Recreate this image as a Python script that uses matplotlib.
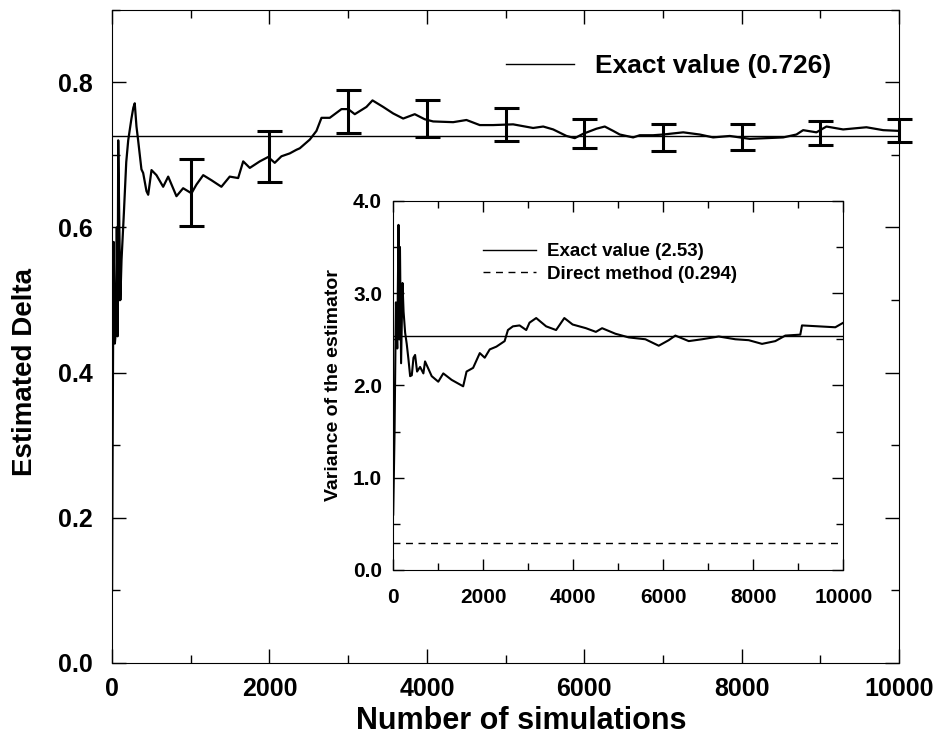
import matplotlib
matplotlib.use("Agg")
import matplotlib.pyplot as plt
from matplotlib.ticker import MultipleLocator, FormatStrFormatter

plt.rcParams['font.family'] = ['Liberation Sans', 'DejaVu Sans']
plt.rcParams['font.weight'] = 'bold'
plt.rcParams['axes.labelweight'] = 'bold'

# running estimate of Delta (main plot)
sim_n = [0, 5, 12, 20, 35, 50, 60, 70, 78, 90, 105, 120, 150, 180, 205, 246, 270, 288,
         310, 331, 373, 395, 437, 459, 501, 564, 649, 713, 818, 903, 1009, 1072, 1158,
         1263, 1389, 1495, 1602, 1666, 1750, 1877, 1983, 2067, 2152, 2258, 2343, 2385,
         2512, 2597, 2661, 2766, 2915, 3000, 3084, 3232, 3309, 3445, 3572, 3699, 3846,
         3973, 4080, 4334, 4503, 4672, 4842, 5096, 5350, 5478, 5605, 5774, 5879, 5986,
         6155, 6260, 6367, 6451, 6621, 6705, 6875, 7003, 7257, 7467, 7637, 7849, 8103,
         8315, 8527, 8696, 8781, 8950, 9077, 9289, 9585, 9798, 10000]
delta_est = [0.10, 0.25, 0.42, 0.58, 0.44, 0.46, 0.60, 0.45, 0.72, 0.62, 0.50, 0.555,
             0.62, 0.69, 0.72, 0.75, 0.765, 0.771, 0.739, 0.72, 0.68, 0.675, 0.65, 0.645,
             0.679, 0.672, 0.656, 0.670, 0.643, 0.654, 0.647, 0.659, 0.672, 0.665, 0.656,
             0.670, 0.668, 0.691, 0.682, 0.691, 0.697, 0.689, 0.698, 0.702, 0.707, 0.709,
             0.721, 0.733, 0.751, 0.751, 0.763, 0.763, 0.756, 0.766, 0.775, 0.766, 0.757,
             0.750, 0.756, 0.749, 0.746, 0.745, 0.748, 0.741, 0.741, 0.742, 0.737, 0.739,
             0.735, 0.726, 0.723, 0.729, 0.736, 0.739, 0.733, 0.728, 0.724, 0.727, 0.727,
             0.728, 0.731, 0.728, 0.724, 0.726, 0.722, 0.723, 0.724, 0.728, 0.734, 0.731,
             0.739, 0.735, 0.738, 0.734, 0.733]

# error bars every 1000 simulations
err_n = [1000, 2000, 3000, 4000, 5000, 6000, 7000, 8000, 9000, 10000]
err_mid = [0.648, 0.698, 0.760, 0.750, 0.742, 0.730, 0.724, 0.724, 0.730, 0.734]
err_half = [0.046, 0.035, 0.030, 0.026, 0.023, 0.020, 0.019, 0.018, 0.017, 0.016]

exact_delta = 0.726

# variance of the estimator (inset)
var_n = [0, 30, 60, 90, 117, 135, 150, 175, 206, 230, 265, 300, 339, 376, 413, 450, 486,
         530, 597, 670, 707, 855, 1001, 1112, 1297, 1554, 1629, 1775, 1923, 2033, 2144,
         2292, 2475, 2548, 2659, 2807, 2955, 3028, 3176, 3397, 3618, 3801, 3985, 4281,
         4502, 4640, 4935, 5232, 5601, 5898, 6120, 6267, 6565, 6860, 7231, 7600, 7897,
         8192, 8488, 8710, 9043, 9080, 9450, 9820, 10000]
var_est = [0.6, 1.5, 2.9, 2.4, 3.74, 2.5, 3.5, 2.24, 3.11, 2.8, 2.57, 2.45, 2.28, 2.10,
           2.11, 2.30, 2.33, 2.15, 2.20, 2.13, 2.26, 2.10, 2.04, 2.13, 2.06, 1.99, 2.15,
           2.19, 2.35, 2.30, 2.39, 2.42, 2.48, 2.60, 2.64, 2.65, 2.60, 2.68, 2.73, 2.64,
           2.60, 2.73, 2.66, 2.62, 2.58, 2.62, 2.56, 2.52, 2.50, 2.43, 2.49, 2.54, 2.48,
           2.50, 2.53, 2.50, 2.49, 2.45, 2.48, 2.54, 2.55, 2.65, 2.64, 2.63, 2.68]
exact_var = 2.53
direct_var = 0.294

fig = plt.figure(figsize=(9.34, 7.44), dpi=100)

# main axes
ax = fig.add_axes([0.12, 0.109, 0.8426, 0.878])
ax.plot(sim_n, delta_est, color='black', lw=1.6)
ax.axhline(exact_delta, color='black', lw=1.0, label='Exact value (0.726)')
ax.errorbar(err_n, err_mid, yerr=err_half, fmt='none', ecolor='black',
            elinewidth=2.2, capsize=9, capthick=2.2, clip_on=False)
ax.set_xlim(0, 10000)
ax.set_ylim(0, 0.9)
ax.xaxis.set_major_locator(MultipleLocator(2000))
ax.xaxis.set_minor_locator(MultipleLocator(1000))
ax.yaxis.set_major_locator(MultipleLocator(0.2))
ax.yaxis.set_minor_locator(MultipleLocator(0.1))
ax.yaxis.set_major_formatter(FormatStrFormatter('%.1f'))
ax.tick_params(which='both', direction='in', top=True, right=True, width=1.0)
ax.tick_params(which='major', length=10, labelsize=18)
ax.tick_params(which='minor', length=6)
ax.tick_params(axis='y', pad=14)
ax.tick_params(axis='x', pad=10)
ax.set_xlabel('Number of simulations', fontsize=22)
ax.set_ylabel('Estimated Delta', fontsize=20)
ax.xaxis.set_label_coords(0.52, -0.066)
ax.yaxis.set_label_coords(-0.094, 0.445)
ax.legend(loc='center left', bbox_to_anchor=(0.5, 0.914), frameon=False,
          fontsize=19, handlelength=2.6, handletextpad=0.8,
          borderpad=0, borderaxespad=0)

# inset axes
ins = fig.add_axes([0.421, 0.234, 0.482, 0.496])
ins.plot(var_n, var_est, color='black', lw=1.5)
ins.axhline(exact_var, color='black', lw=1.0, label='Exact value (2.53)')
ins.axhline(direct_var, color='black', lw=1.0, ls=(0, (5, 4)),
            label='Direct method (0.294)')
ins.set_xlim(0, 10000)
ins.set_ylim(0, 4)
ins.xaxis.set_major_locator(MultipleLocator(2000))
ins.xaxis.set_minor_locator(MultipleLocator(1000))
ins.yaxis.set_major_locator(MultipleLocator(1.0))
ins.yaxis.set_minor_locator(MultipleLocator(0.5))
ins.yaxis.set_major_formatter(FormatStrFormatter('%.1f'))
ins.tick_params(which='both', direction='in', top=True, right=True, width=1.0)
ins.tick_params(which='major', length=8, labelsize=15)
ins.tick_params(which='minor', length=5)
ins.tick_params(axis='y', pad=8)
ins.tick_params(axis='x', pad=13)
ins.set_ylabel('Variance of the estimator', fontsize=14, labelpad=8)
ins.legend(loc='center left', bbox_to_anchor=(0.2, 0.832), frameon=False,
           fontsize=13.5, handlelength=2.8, handletextpad=0.6, labelspacing=0.3,
           borderpad=0, borderaxespad=0)

fig.savefig('out.png', dpi=100)
